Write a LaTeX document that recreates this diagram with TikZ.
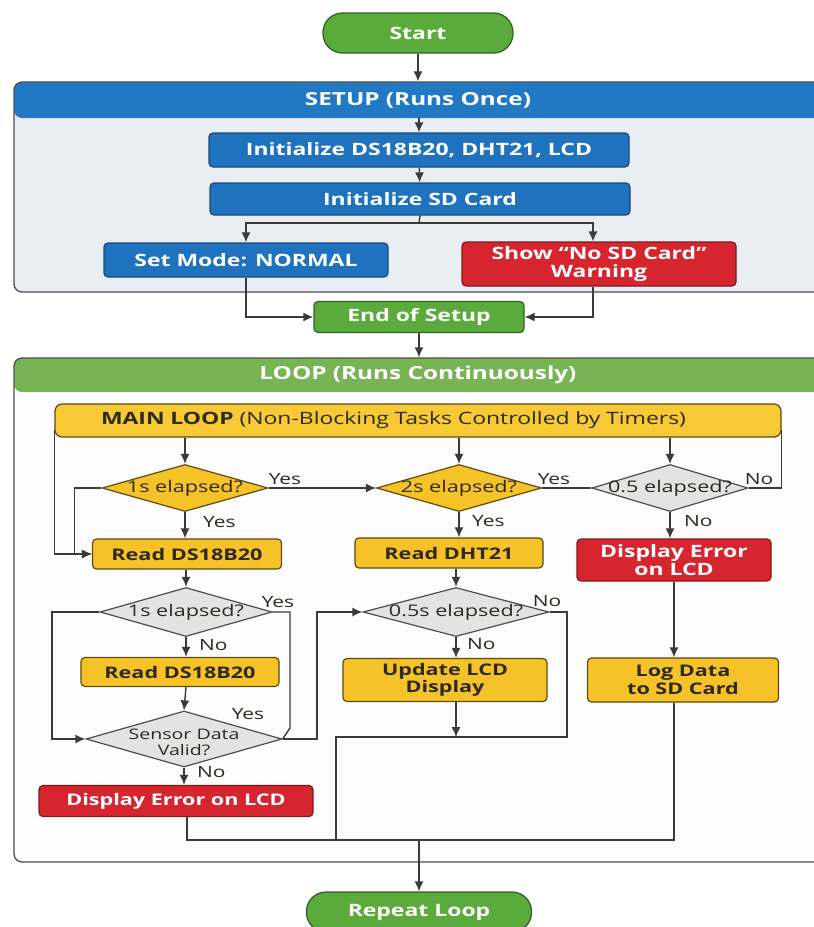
\documentclass[tikz,border=0pt]{standalone}
\usepackage{fontspec}
\setmainfont{Open Sans}[FakeStretch=1.35]
\usetikzlibrary{shapes.geometric, arrows.meta}

\definecolor{lineGray}{HTML}{3A3A3A}
\definecolor{frameGray}{HTML}{4D4D4D}
\definecolor{headBlue}{HTML}{2179C4}
\definecolor{boxBlue}{HTML}{1F73BE}
\definecolor{edgeBlue}{HTML}{1B4A78}
\definecolor{setupBg}{HTML}{E9EEF5}
\definecolor{loopBg}{HTML}{FCFCFC}
\definecolor{boxRed}{HTML}{D7252F}
\definecolor{edgeRed}{HTML}{7A1C1C}
\definecolor{pillGreen}{HTML}{5AAA3C}
\definecolor{edgeGreen}{HTML}{2E6620}
\definecolor{headGreen}{HTML}{78B454}
\definecolor{boxYellow}{HTML}{F5C227}
\definecolor{barYellow}{HTML}{F6C935}
\definecolor{edgeYellow}{HTML}{5C4B12}
\definecolor{diaGray}{HTML}{E3E3E3}
\definecolor{textDark}{HTML}{2E2A22}

\newcommand{\fsz}[1]{\fontsize{#1}{#1}\selectfont\setlength{\baselineskip}{1.1\baselineskip}}
\newcommand{\dtxt}[1]{\makebox[0pt]{#1}}

\begin{document}
\begin{tikzpicture}[x=1pt, y=-1pt, >={Latex[length=10pt,width=9pt]},
    flow/.style={draw=lineGray, line width=1.4pt},
    pill/.style={draw=edgeGreen, line width=1.3pt, fill=pillGreen, rounded corners=19.5pt,
        minimum height=40pt, inner sep=0pt, text=white, font=\fsz{17}\bfseries},
    bluebox/.style={draw=edgeBlue, line width=1.2pt, fill=boxBlue, rounded corners=4pt,
        inner sep=0pt, align=center, text=white, font=\fsz{17}\bfseries},
    redbox/.style={bluebox, draw=edgeRed, fill=boxRed},
    greenbox/.style={bluebox, draw=edgeGreen, fill=pillGreen},
    yelbox/.style={bluebox, draw=edgeYellow, fill=boxYellow, text=textDark, font=\fsz{16}\bfseries},
    ydia/.style={diamond, draw=edgeYellow, line width=1.2pt, fill=boxYellow, inner sep=0pt,
        text=textDark, font=\fsz{16}},
    gdia/.style={ydia, draw=frameGray, fill=diaGray},
    lab/.style={inner sep=1pt, text=textDark, font=\fsz{15.5}},
    headtxt/.style={text=white, font=\fsz{18}\bfseries},
    setupframe/.style={draw=frameGray, line width=1.3pt, fill=setupBg, rounded corners=8pt, inner sep=0pt,
        path picture={\fill[headBlue] (path picture bounding box.north west)
            rectangle ([yshift=-36pt]path picture bounding box.north east);}},
    loopframe/.style={setupframe, fill=loopBg,
        path picture={\fill[headGreen] (path picture bounding box.north west)
            rectangle ([yshift=-34pt]path picture bounding box.north east);}},
    mainbar/.style={draw=edgeYellow, line width=1.2pt, fill=barYellow, rounded corners=7pt,
        minimum height=33pt, text width=634pt, inner xsep=46pt, inner ysep=0pt, align=left,
        text=textDark, font=\fsz{17}}]

    % 画布范围
    \useasboundingbox (0,0) rectangle (814,927);
    \clip (0,0) rectangle (814,927);

    % 两个大框
    \node[setupframe, minimum width=816pt, minimum height=210pt] (setup) at (422,187) {};
    \node[headtxt] (setuphead) at (418,100) {SETUP (Runs Once)};
    \node[loopframe, minimum width=816pt, minimum height=504pt] (loop) at (422,610) {};
    \node[headtxt] (loophead) at (418,375) {LOOP (Runs Continuously)};

    % SETUP 部分
    \node[pill, minimum width=190pt] (start) at (418,33) {Start};
    \node[bluebox, minimum width=420pt, minimum height=34pt] (initsens) at (419,150) {Initialize DS18B20, DHT21, LCD};
    \node[bluebox, minimum width=420pt, minimum height=32pt] (initsd) at (420,199) {Initialize SD Card};
    \node[bluebox, minimum width=284pt, minimum height=34pt] (setmode) at (246,260) {Set Mode: NORMAL};
    \node[redbox, minimum width=274pt, minimum height=44pt] (nosd) at (599,264) {Show “No SD Card”\\Warning};
    \node[greenbox, minimum width=210pt, minimum height=31pt] (endsetup) at (419,317) {End of Setup};

    \coordinate (setupbar) at (419,118);
    \coordinate (split) at (419,223);

    \draw[flow, ->] (start) -- (start |- setup.north);
    \draw[flow, ->] (setupbar) -- (initsens.north);
    \draw[flow, ->] (initsens) -- (initsd);
    \draw[flow] (initsd.south) -- (split);
    \draw[flow, ->] (split) -| (setmode.north);
    \draw[flow, ->] (split) -| ([xshift=-6pt]nosd.north);
    \draw[flow, ->] (setmode.south) |- (endsetup.west);
    \draw[flow, ->] ([xshift=-6pt]nosd.south) |- (endsetup.east);
    \draw[flow, ->] (endsetup) -- (endsetup |- loop.north);

    % LOOP 部分
    \node[mainbar] (mainloop) at (418,420.5) {\textbf{MAIN LOOP} (Non-Blocking Tasks Controlled by Timers)};

    % 第一排判断
    \node[ydia, minimum width=166pt, minimum height=47pt] (tmr1) at (185,488) {\dtxt{1s elapsed?}};
    \node[ydia, minimum width=165pt, minimum height=47pt] (tmr2) at (459,488) {\dtxt{2s elapsed?}};
    \node[gdia, minimum width=156pt, minimum height=47pt] (tmr3) at (670,488) {\dtxt{0.5 elapsed?}};

    \draw[flow, ->] (tmr1.north |- mainloop.south) -- (tmr1.north);
    \draw[flow, ->] (tmr2.north |- mainloop.south) -- (tmr2.north);
    \draw[flow, ->] (tmr3.north |- mainloop.south) -- (tmr3.north);

    % 第二排
    \node[yelbox, minimum width=189pt, minimum height=30pt] (rdds) at (187,554) {Read DS18B20};
    \node[yelbox, minimum width=188pt, minimum height=30pt] (rddht) at (449,553) {Read DHT21};
    \node[redbox, minimum width=194pt, minimum height=42pt] (errlcd) at (674,560) {Display Error\\on LCD};

    \draw[flow, ->] (tmr1) -- (tmr2);
    \draw[flow] (tmr2) -- (tmr3);
    \draw[flow] (tmr3.east) -| ([yshift=8pt]mainloop.south east);
    \draw[flow, ->] ([yshift=8pt]mainloop.south west) |- (rdds.west);
    \draw[flow, ->] (tmr1.west) -- ++(-27,0) |- (rdds.west);
    \draw[flow, ->] (tmr1.south) -- (tmr1.south |- rdds.north);
    \draw[flow, ->] (tmr2.south) -- (tmr2.south |- rddht.north);
    \draw[flow, ->] (tmr3.south) -- (tmr3.south |- errlcd.north);

    \node[lab] (tmr1yes) at (285,479) {Yes};
    \node[lab, anchor=west] (tmr1dn) at (202,522) {Yes};
    \node[lab] (tmr2yes) at (554,479) {Yes};
    \node[lab, anchor=west] (tmr2dn) at (471,521) {Yes};
    \node[lab] (tmr3no) at (759,479) {No};
    \node[lab, anchor=west] (tmr3dn) at (683,521) {No};

    % 第三排
    \node[gdia, minimum width=172pt, minimum height=49pt] (chk1) at (186,612) {\dtxt{1s elapsed?}};
    \node[gdia, minimum width=186pt, minimum height=49pt] (chk2) at (456,612) {\dtxt{0.5s elapsed?}};
    \node[yelbox, minimum width=198pt, minimum height=29pt] (rdds2) at (180,672) {Read DS18B20};
    \node[yelbox, minimum width=204pt, minimum height=43pt] (lcdupd) at (445,680) {Update LCD\\Display};
    \node[yelbox, minimum width=191pt, minimum height=44pt] (logsd) at (683,680) {Log Data\\to SD Card};
    \node[gdia, minimum width=196pt, minimum height=56pt, font=\fsz{14.5}] (valid) at (184,739)
        {\dtxt{\smash{\raisebox{-9pt}{\begin{tabular}{@{}c@{}}Sensor Data\\Valid?\end{tabular}}}}};
    \node[redbox, font=\fsz{16}\bfseries, minimum width=274pt, minimum height=31pt] (errlcd2) at (176,801) {Display Error on LCD};
    \node[pill, minimum width=225pt] (repeat) at (419,912) {Repeat Loop};

    \coordinate (nolft) at (52,612);
    \coordinate (yesdn) at (290,728);
    \coordinate (yesup) at (317,612);
    \coordinate (noright) at (567,737);
    \coordinate (midjoin) at (336,737);
    \coordinate (merge) at (419,840);

    \draw[flow, ->] (rdds.south -| chk1) -- (chk1.north);
    \draw[flow, ->] (chk2.north |- rddht.south) -- (chk2.north);
    \draw[flow, ->] (errlcd.south) -- (errlcd.south |- logsd.north);
    \draw[flow, ->] (chk1.south) -- (chk1.south |- rdds2.north);
    \draw[flow, ->] (rdds2.south -| chk1) -- (valid.north);
    \draw[flow] (chk1.east) -| (yesdn) -- (valid.east);
    \draw[flow, ->] (chk1.west) -- (nolft) |- (valid.west);
    \draw[flow, ->] (valid.east) -| (yesup) -- (chk2.west);
    \draw[flow, ->] (chk2.south) -- (chk2.south |- lcdupd.north);
    \draw[flow] (chk2.east) -| (noright) -- (midjoin) -- (midjoin |- merge);
    \draw[flow, ->] (lcdupd.south -| chk2) -- (chk2 |- noright);
    \draw[flow, ->] (valid.south) -- (valid.south |- errlcd2.north);

    \node[lab] (chk1yes) at (278,602) {Yes};
    \node[lab, anchor=west] (chk1dn) at (198,645) {No};
    \node[lab] (chk2no) at (547,601) {No};
    \node[lab, anchor=west] (chk2dn) at (466,644) {No};
    \node[lab] (validyes) at (248,714) {Yes};
    \node[lab, anchor=west] (validdn) at (196,772) {No};

    % 汇合到 Repeat Loop
    \draw[flow] ([xshift=11pt]errlcd2.south) |- (errlcd.south |- merge) -- (errlcd.south |- logsd.south);
    \draw[flow, ->] (merge) -- (repeat);
\end{tikzpicture}
\end{document}
